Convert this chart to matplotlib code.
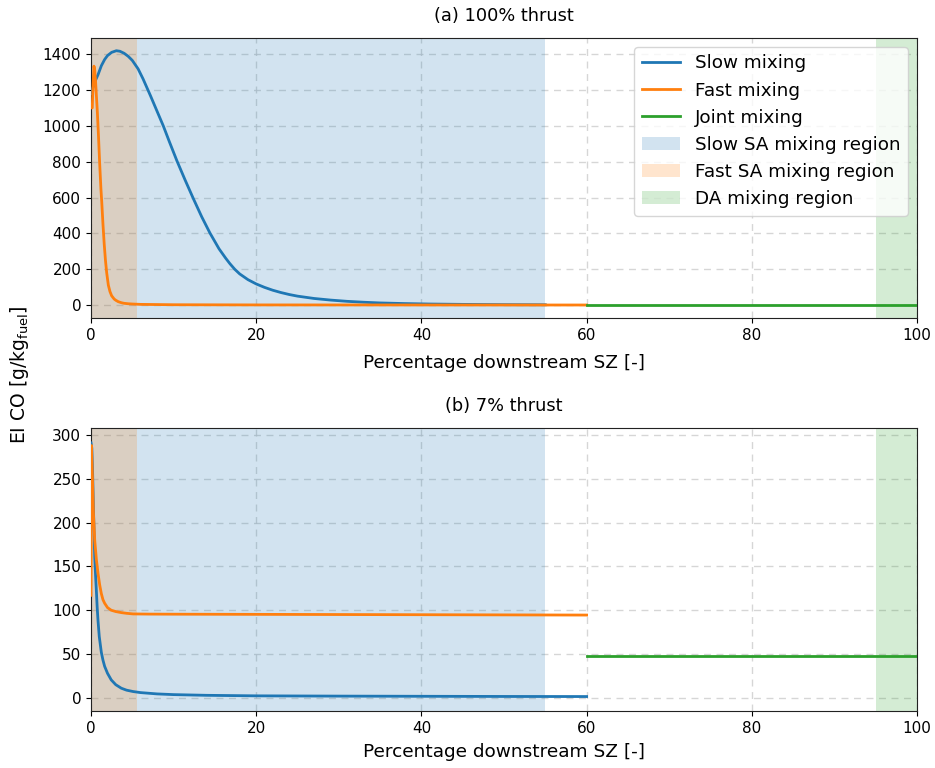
import matplotlib
matplotlib.use("Agg")
import matplotlib.pyplot as plt

# ---- data: (a) 100% thrust ----
slow_a_x = [0, 0.25, 0.5, 0.85, 1.25, 1.65, 2.0, 2.5, 3.07, 3.5, 4.0, 4.5, 5.0, 5.7,
            6.3, 7.2, 7.9, 8.75, 9.5, 10.4, 11.4, 12.4, 13.4, 14.4, 15.5, 16.3, 16.8,
            17.4, 18, 19, 20, 21, 22, 23, 24, 25, 27, 29, 31, 33, 35, 38, 41, 45, 50, 55]
slow_a_y = [1180, 1215, 1250, 1285, 1335, 1370, 1392, 1410, 1419, 1416, 1405, 1388,
            1365, 1318, 1262, 1168, 1092, 1000, 910, 805, 697, 593, 493, 402, 314, 262,
            232, 200, 174, 142, 118, 99, 83, 70, 59, 50, 37, 28, 21, 16, 12, 8.5, 6, 4,
            2.5, 1.8]
fast_a_x = [0, 0.15, 0.25, 0.36, 0.45, 0.55, 0.65, 0.77, 0.9, 1.05, 1.2, 1.3, 1.45,
            1.6, 1.75, 1.9, 2.1, 2.3, 2.5, 2.8, 3.0, 3.3, 3.7, 4.0, 4.5, 5.0, 6.0, 8.0,
            10, 15, 20, 30, 40, 50, 60]
fast_a_y = [1100, 1100, 1230, 1333, 1310, 1250, 1170, 1076, 950, 790, 650, 576, 450,
            340, 250, 180, 111, 75, 52, 34, 27, 19, 13, 10, 7.5, 6, 4, 3, 2, 1.5, 1,
            0.8, 0.6, 0.5, 0.5]
joint_a_x = [60, 100]
joint_a_y = [0.5, 0.5]

# ---- data: (b) 7% thrust ----
slow_b_x = [0, 0.1, 0.2, 0.3, 0.45, 0.55, 0.65, 0.75, 0.85, 1.0, 1.25, 1.45, 1.65,
            2.0, 2.45, 3.0, 3.67, 4.3, 5.1, 6, 8, 10, 14, 20, 30, 40, 50, 60]
slow_b_y = [291, 285, 255, 215, 160, 140, 122, 103, 88, 70, 52, 43, 36, 28, 20.5, 15,
            11, 8.8, 7.2, 6, 4.5, 3.7, 2.9, 2.3, 2.0, 1.8, 1.6, 1.5]
fast_b_x = [0, 0.05, 0.15, 0.3, 0.45, 0.65, 0.85, 1.05, 1.25, 1.45, 1.65, 2.0, 2.45,
            3.0, 3.67, 4.3, 5.1, 7, 10, 20, 30, 40, 50, 60]
fast_b_y = [117, 288, 260, 210, 180, 158, 142, 129, 119, 112, 108, 103, 100, 98.5,
            97.3, 96.5, 95.8, 95.6, 95.5, 95.3, 95.1, 94.9, 94.7, 94.5]
joint_b_x = [60, 100]
joint_b_y = [48, 48]

slow_region = (0, 55)
fast_region = (0, 5.6)
da_region = (95, 100)

titles = ["(a) 100% thrust", "(b) 7% thrust"]
xticks = [0, 20, 40, 60, 80, 100]
yticks_a = [0, 200, 400, 600, 800, 1000, 1200, 1400]
yticks_b = [0, 50, 100, 150, 200, 250, 300]

plt.rcParams['font.family'] = ['DejaVu Sans']
fig = plt.figure(figsize=(9.35, 7.68), dpi=100)
ax1 = fig.add_axes([91/935, 1-318/768, 826/935, 280/768])
ax2 = fig.add_axes([91/935, 1-711/768, 826/935, 283/768])

blue, orange, green = '#1f77b4', '#ff7f0e', '#2ca02c'

datasets = [
    (ax1, slow_a_x, slow_a_y, fast_a_x, fast_a_y, joint_a_x, joint_a_y, yticks_a, 8),
    (ax2, slow_b_x, slow_b_y, fast_b_x, fast_b_y, joint_b_x, joint_b_y, yticks_b, 5.5),
]
for i, (ax, sx, sy, fx, fy, jx, jy, yt, lp) in enumerate(datasets):
    ax.plot(sx, sy, color=blue, lw=2, label='Slow mixing', zorder=3)
    ax.plot(fx, fy, color=orange, lw=2, label='Fast mixing', zorder=3)
    ax.plot(jx, jy, color=green, lw=2, label='Joint mixing', zorder=3)
    ax.axvspan(*slow_region, color=blue, alpha=0.2, lw=0, label='Slow SA mixing region')
    ax.axvspan(*fast_region, color=orange, alpha=0.2, lw=0, label='Fast SA mixing region')
    ax.axvspan(*da_region, color=green, alpha=0.2, lw=0, label='DA mixing region')
    ax.set_xlim(0, 100)
    ax.set_xticks(xticks)
    ax.set_yticks(yt)
    ax.grid(True, ls=(0, (5, 4)), color='#cccccc', lw=1, alpha=0.8)
    ax.set_axisbelow(True)
    ax.tick_params(labelsize=11)
    ax.set_xlabel('Percentage downstream SZ [-]', fontsize=13.3, labelpad=lp)
    ax.set_title(titles[i], fontsize=12.8, pad=12.5)
    for s in ax.spines.values():
        s.set_color('#222222')

ax1.set_ylim(-72, 1490)
ax2.set_ylim(-15, 308)
ax1.legend(loc='upper right', fontsize=13.2, framealpha=0.8, borderpad=0.4,
           handlelength=2.1, labelspacing=0.5)
fig.text(20/935, 1-375/768, r'EI CO [g/kg$_{\mathrm{fuel}}$]', rotation=90, va='center',
         ha='center', fontsize=13.5)

fig.savefig('out.png', dpi=100)
